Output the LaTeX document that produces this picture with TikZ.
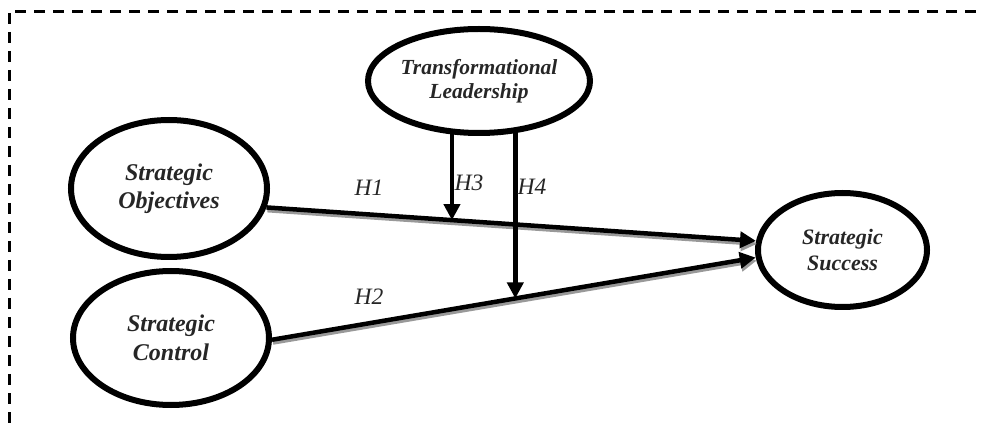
\documentclass[tikz,border=0pt]{standalone}
\usepackage{fontspec}
\setmainfont{Liberation Serif}
\usetikzlibrary{arrows.meta,shapes.geometric,calc}
\begin{document}
\begin{tikzpicture}[x=1pt,y=-1pt,
  construct/.style={ellipse,draw=black,line width=6pt,inner sep=0pt,align=center,text=black!85},
  rel/.style={line width=4.5pt,-{Triangle[length=16pt,width=16pt]}},
  relshadow/.style={line width=4pt,draw=black!40,fill=black!40,-{Triangle[length=16pt,width=16pt]}},
  hlabel/.style={font=\fontsize{23.5}{27}\selectfont\itshape,text=black!85,inner sep=0pt},
  border/.style={line width=3pt,dash pattern=on 11pt off 8pt}]
\useasboundingbox (0,0) rectangle (985,427);
% dashed frame (top and left edges visible)
\draw[border] (9,13) -- (9,427);
\draw[border] (15,12) -- (980,12);
% constructs
\node[construct,minimum width=222pt,minimum height=104pt,font=\fontsize{21.5}{23.5}\selectfont\bfseries\itshape] (tl) at (479,81) {Transformational\\Leadership};
\node[construct,minimum width=196pt,minimum height=137pt,font=\fontsize{24}{28.5}\selectfont\bfseries\itshape] (so) at (169,188.5) {Strategic\\Objectives};
\node[construct,minimum width=196pt,minimum height=134pt,font=\fontsize{24}{28.5}\selectfont\bfseries\itshape] (sc) at (171,338) {Strategic\\Control};
\node[construct,minimum width=169pt,minimum height=114pt,font=\fontsize{22}{25.5}\selectfont\bfseries\itshape] (ss) at (842.5,250) {Strategic\\Success};
% shadows of main paths
\draw[relshadow] ([shift={(1,3)}]so.-11) -- ([shift={(1,3)}]ss.174.8);
\draw[relshadow] ([shift={(1,3)}]sc.-1) -- ([shift={(1,3)}]ss.185.2);
% main paths
\draw[rel] (so.-11) -- (ss.174.8) coordinate[pos=0.379] (h3end);
\draw[rel] (sc.-1) -- (ss.185.2) coordinate[pos=0.503] (h4end);
% moderating paths
\coordinate (tlb) at ([yshift=3pt]tl.south);
\draw[rel] (tlb -| h3end) -- (h3end);
\draw[rel] (tlb -| h4end) -- (h4end);
% labels
\node[hlabel] (l1) at (369,188) {H1};
\node[hlabel] (l2) at (369,297) {H2};
\node[hlabel] (l3) at (469,183) {H3};
\node[hlabel] (l4) at (532,187) {H4};
\end{tikzpicture}
\end{document}
